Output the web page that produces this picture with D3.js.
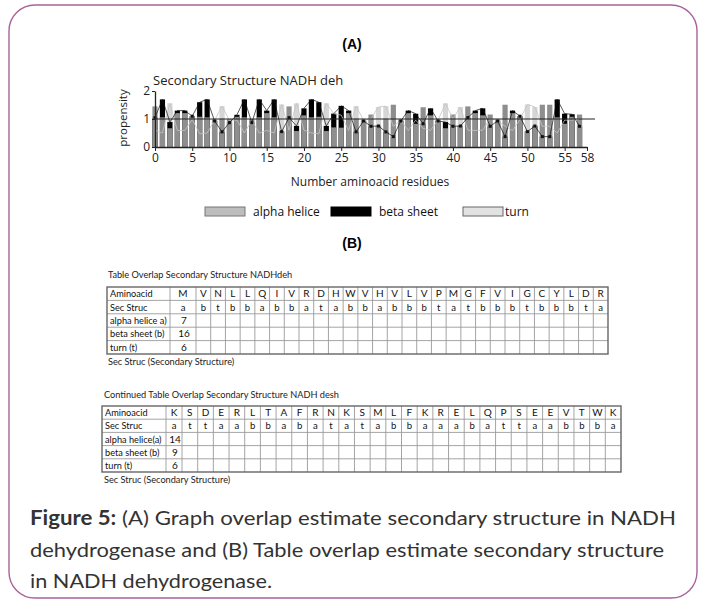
<!DOCTYPE html>
<html>
<head>
<meta charset="utf-8">
<script src="https://cdn.jsdelivr.net/npm/d3@7"></script>
<style>
	body { margin: 0; background: #fff; }
	svg text { font-family: "Open Sans", sans-serif; }
	svg .tbl text { font-family: Lato, "Open Sans", sans-serif; }
	svg text.cap { font-family: Lato, "Open Sans", sans-serif; }
</style>
</head>
<body>
<div id="fig"></div>
<script>
// residues (both table halves put together)
var residues1 = ['M','V','N','L','L','Q','I','V','R','D','H','W','V','H','V','L','V','P','M','G','F','V','I','G','C','Y','L','D','R'];
var residues2 = ['K','S','D','E','R','L','T','A','F','R','N','K','S','M','L','F','K','R','E','L','Q','P','S','E','E','V','T','W','K'];
var secStruc1 = ['a','b','t','b','b','a','b','b','a','t','a','b','b','a','b','b','b','t','a','t','b','b','b','t','b','b','b','t','a'];
var secStruc2 = ['a','t','t','a','a','b','b','a','b','a','t','a','t','a','b','b','a','a','a','b','a','t','t','a','a','b','b','b','a'];
var counts1 = [7, 16, 6];
var counts2 = [14, 9, 6];

// propensity, one per residue (0..57)
var alphaVals = [1.45,1.06,0.67,1.21,1.21,1.11,1.08,1.06,0.98,1.01,1.00,1.08,1.06,1.00,1.06,1.21,1.06,0.57,1.45,0.57,1.13,1.06,1.08,0.57,0.70,0.69,1.21,1.01,0.98,
	1.16,0.77,1.01,1.51,0.98,1.21,0.83,1.42,1.13,0.98,0.67,1.16,0.77,1.45,1.21,1.13,1.16,0.98,1.51,1.21,1.11,0.57,0.77,1.51,1.51,1.06,0.83,1.08,1.16];
var betaVals = [1.05,1.70,0.89,1.30,1.30,1.10,1.60,1.70,0.93,0.54,0.87,1.15,1.70,0.87,1.70,1.30,1.70,0.55,1.05,0.75,1.38,1.70,1.60,0.75,1.19,1.47,1.30,0.54,0.93,
	0.74,0.75,0.54,0.37,0.93,1.30,1.19,0.83,1.38,0.93,0.89,0.74,0.75,1.05,1.30,1.38,0.74,0.93,0.37,1.30,1.10,0.55,0.75,0.37,0.37,1.70,1.19,1.17,0.74];
var turnVals = [0.60,0.50,1.56,0.59,0.59,0.98,0.47,0.50,0.95,1.46,0.95,0.96,0.50,0.95,0.50,0.59,0.50,1.52,0.60,1.56,0.60,0.50,0.47,1.56,1.19,1.14,0.59,1.46,0.95,
	1.01,1.43,1.46,0.74,0.95,0.59,0.96,0.66,0.60,0.95,1.56,1.01,1.43,0.60,0.59,0.60,1.01,0.95,0.74,0.59,0.98,1.52,1.43,0.74,0.74,0.50,0.96,0.96,1.01];

var xTicks = [0,5,10,15,20,25,30,35,40,45,50,55,58];
var yTicks = [0,1,2];
var rowLabels1 = ['Aminoacid','Sec Struc','alpha helice a)','beta sheet (b)','turn  (t)'];
var rowLabels2 = ['Aminoacid','Sec Struc','alpha helice(a)','beta sheet  (b)','turn   (t)'];
var legendItems = [
	{name: 'alpha helice', fill: '#bdbdbd', stroke: '#777'},
	{name: 'beta sheet', fill: '#000', stroke: '#000'},
	{name: 'turn', fill: '#e2e2e2', stroke: '#666'}
];
var captionLines = [
	['Figure 5:', ' (A) Graph overlap estimate secondary structure in NADH'],
	['', 'dehydrogenase and (B) Table overlap estimate secondary structure'],
	['', 'in NADH dehydrogenase.']
];

var figure = {
	init: function () {
		var self = this;
		self.svg = d3.select('#fig').append('svg')
			.attr('width', 704)
			.attr('height', 603);
		// card frame
		self.svg.append('rect')
			.attr('x', 9).attr('y', 5)
			.attr('width', 688).attr('height', 593)
			.attr('rx', 26)
			.attr('fill', 'none')
			.attr('stroke', '#a8639a')
			.attr('stroke-width', 1.4);

		self.drawChart();
		self.drawLegend();
		self.drawTable(residues1, secStruc1, counts1, rowLabels1, {x: 107, labelW: 63, firstW: 26, right: 608, top: 287, bottom: 354},
			'Table Overlap Secondary Structure NADHdeh', 108, 278);
		self.drawTable(residues2, secStruc2, counts2, rowLabels2, {x: 102, labelW: 64, firstW: 16, right: 621, top: 406, bottom: 472},
			'Continued Table Overlap Secondary Structure NADH desh', 104, 398);
		self.drawCaption();
	},
	drawChart: function () {
		var self = this;
		var svg = self.svg;
		var x = d3.scaleLinear().domain([0, 58]).range([155, 587]);
		var y = d3.scaleLinear().domain([0, 2]).range([147, 91]);
		var barW = 5.2;
		var idx = d3.range(alphaVals.length);

		svg.append('text').attr('x', 352).attr('y', 49)
			.attr('text-anchor', 'middle')
			.style('font-family', 'Liberation Sans, Arial, sans-serif')
			.style('font-weight', 'bold').style('font-size', '14px')
			.text('(A)');
		svg.append('text').attr('x', 153).attr('y', 85)
			.style('font-size', '13px').attr('fill', '#222')
			.text('Secondary Structure NADH deh');

		var g = svg.append('g');
		// turn behind, then beta, alpha on top
		g.selectAll('rect.turn').data(idx).enter().append('rect')
			.attr('class', 'turn')
			.attr('x', function (d) { return x(d) - barW / 2; })
			.attr('y', function (d) { return y(turnVals[d]); })
			.attr('width', barW)
			.attr('height', function (d) { return y(0) - y(turnVals[d]); })
			.attr('fill', '#d6d6d6');
		g.selectAll('rect.beta').data(idx).enter().append('rect')
			.attr('class', 'beta')
			.attr('x', function (d) { return x(d) - barW / 2; })
			.attr('y', function (d) { return y(betaVals[d]); })
			.attr('width', barW)
			.attr('height', function (d) { return y(0) - y(betaVals[d]); })
			.attr('fill', '#000');
		g.selectAll('rect.alpha').data(idx).enter().append('rect')
			.attr('class', 'alpha')
			.attr('x', function (d) { return x(d) - barW / 2; })
			.attr('y', function (d) { return y(alphaVals[d]); })
			.attr('width', barW)
			.attr('height', function (d) { return y(0) - y(alphaVals[d]); })
			.attr('fill', '#8e8e8e');

		var turnLine = d3.line().x(function (d) { return x(d); }).y(function (d) { return y(turnVals[d]); });
		var betaLine = d3.line().x(function (d) { return x(d); }).y(function (d) { return y(betaVals[d]); });
		g.append('path').attr('d', turnLine(idx))
			.attr('fill', 'none').attr('stroke', '#c4c4c4').attr('stroke-width', 0.8);
		g.append('path').attr('d', betaLine(idx))
			.attr('fill', 'none').attr('stroke', '#111').attr('stroke-width', 0.7);
		g.selectAll('rect.mk').data(idx.filter(function (d) { return betaVals[d] < alphaVals[d]; }))
			.enter().append('rect')
			.attr('class', 'mk')
			.attr('x', function (d) { return x(d) - 1.5; })
			.attr('y', function (d) { return y(betaVals[d]) - 1.5; })
			.attr('width', 3).attr('height', 3)
			.attr('fill', '#111');

		// reference line at 1
		svg.append('line')
			.attr('x1', 155).attr('x2', 595)
			.attr('y1', y(1)).attr('y2', y(1))
			.attr('stroke', '#222').attr('stroke-width', 1.2);

		var xAxis = svg.append('g')
			.attr('transform', 'translate(0,' + y(0) + ')')
			.call(d3.axisBottom(x).tickValues(xTicks).tickSize(4).tickSizeOuter(0));
		var yAxis = svg.append('g')
			.attr('transform', 'translate(155,0)')
			.call(d3.axisLeft(y).tickValues(yTicks).tickFormat(d3.format('d')).tickSize(3).tickSizeOuter(0));
		[xAxis, yAxis].forEach(function (a) {
			a.select('.domain').attr('stroke', '#222').attr('stroke-width', 1.3);
			a.selectAll('.tick line').attr('stroke', '#222');
			a.selectAll('.tick text')
				.style('font-family', 'Open Sans, sans-serif')
				.style('font-size', '12px').attr('fill', '#222');
		});
		xAxis.selectAll('.tick text').attr('y', 6);
		yAxis.selectAll('.tick text').attr('x', -5);

		svg.append('text')
			.attr('transform', 'translate(127,118) rotate(-90)')
			.attr('text-anchor', 'middle')
			.style('font-size', '11.5px').attr('fill', '#222')
			.text('propensity');
		svg.append('text').attr('x', 370).attr('y', 186)
			.attr('text-anchor', 'middle')
			.style('font-size', '12px').attr('fill', '#222')
			.text('Number aminoacid residues');
	},
	drawLegend: function () {
		var self = this;
		var legendX = [205, 331, 463];
		var lg = self.svg.selectAll('g.legend').data(legendItems).enter().append('g')
			.attr('class', 'legend')
			.attr('transform', function (d, i) { return 'translate(' + legendX[i] + ',207)'; });
		lg.append('rect')
			.attr('width', 40).attr('height', 9)
			.attr('fill', function (d) { return d.fill; })
			.attr('stroke', function (d) { return d.stroke; })
			.attr('stroke-width', 1);
		lg.append('text')
			.attr('x', function (d, i) { return i === 2 ? 42 : 48; })
			.attr('y', 9)
			.style('font-size', '12px').attr('fill', '#111')
			.text(function (d) { return d.name; });

		self.svg.append('text').attr('x', 352).attr('y', 248)
			.attr('text-anchor', 'middle')
			.style('font-family', 'Liberation Sans, Arial, sans-serif')
			.style('font-weight', 'bold').style('font-size', '14px')
			.text('(B)');
	},
	drawTable: function (res, sec, counts, labels, box, title, tx, ty) {
		var self = this;
		var g = self.svg.append('g').attr('class', 'tbl');
		g.append('text').attr('x', tx).attr('y', ty)
			.style('font-size', '9.2px').attr('fill', '#222')
			.text(title);

		// first residue column holds the counts too, so it may be wider
		var x0 = box.x + box.labelW;
		var rest = d3.scaleBand().domain(d3.range(1, res.length)).range([x0 + box.firstW, box.right]);
		var colLeft = function (i) { return i === 0 ? x0 : rest(i); };
		var colMid = function (i) { return i === 0 ? x0 + box.firstW / 2 : rest(i) + rest.bandwidth() / 2; };
		var rowY = d3.scaleBand().domain(d3.range(labels.length)).range([box.top, box.bottom]);

		// inner grid
		rowY.domain().slice(1).forEach(function (r) {
			g.append('line')
				.attr('x1', box.x).attr('x2', box.right)
				.attr('y1', rowY(r)).attr('y2', rowY(r))
				.attr('stroke', '#9a9a9a').attr('stroke-width', 0.9);
		});
		d3.range(res.length).forEach(function (c) {
			g.append('line')
				.attr('x1', colLeft(c)).attr('x2', colLeft(c))
				.attr('y1', box.top).attr('y2', box.bottom)
				.attr('stroke', '#9a9a9a').attr('stroke-width', 0.9);
		});
		g.append('rect')
			.attr('x', box.x).attr('y', box.top)
			.attr('width', box.right - box.x).attr('height', box.bottom - box.top)
			.attr('fill', 'none').attr('stroke', '#666').attr('stroke-width', 1.4);

		g.selectAll('text.lbl').data(labels).enter().append('text')
			.attr('class', 'lbl')
			.attr('x', box.x + 3)
			.attr('y', function (d, i) { return rowY(i) + rowY.bandwidth() / 2 + 3.5; })
			.style('font-size', '9.2px').attr('fill', '#111')
			.text(function (d) { return d; });
		g.selectAll('text.aa').data(res).enter().append('text')
			.attr('class', 'aa')
			.attr('x', function (d, i) { return colMid(i); })
			.attr('y', rowY(0) + rowY.bandwidth() / 2 + 3.5)
			.attr('text-anchor', 'middle')
			.style('font-size', '10px').attr('fill', '#111')
			.text(function (d) { return d; });
		g.selectAll('text.ss').data(sec).enter().append('text')
			.attr('class', 'ss')
			.attr('x', function (d, i) { return colMid(i); })
			.attr('y', rowY(1) + rowY.bandwidth() / 2 + 3.5)
			.attr('text-anchor', 'middle')
			.style('font-size', '9.5px').attr('fill', '#111')
			.text(function (d) { return d; });
		g.selectAll('text.cnt').data(counts).enter().append('text')
			.attr('class', 'cnt')
			.attr('x', colMid(0) + 1)
			.attr('y', function (d, i) { return rowY(i + 2) + rowY.bandwidth() / 2 + 3.5; })
			.attr('text-anchor', 'middle')
			.style('font-size', '10px').attr('fill', '#111')
			.text(function (d) { return d; });

		g.append('text').attr('x', tx).attr('y', box.bottom + 11)
			.style('font-size', '9.2px').attr('fill', '#222')
			.text('Sec Struc (Secondary Structure)');
	},
	drawCaption: function () {
		var self = this;
		var lineW = [646, 634, 242];
		var t = self.svg.selectAll('text.cap').data(captionLines).enter().append('text')
			.attr('class', 'cap')
			.attr('x', 30)
			.attr('y', function (d, i) { return 525 + i * 31.5; })
			.attr('textLength', function (d, i) { return lineW[i]; })
			.attr('lengthAdjust', 'spacingAndGlyphs')
			.style('font-size', '20px').attr('fill', '#333');
		t.append('tspan').style('font-weight', 'bold').text(function (d) { return d[0]; });
		t.append('tspan').text(function (d) { return d[1]; });
	}
};

figure.init();
</script>
</body>
</html>
